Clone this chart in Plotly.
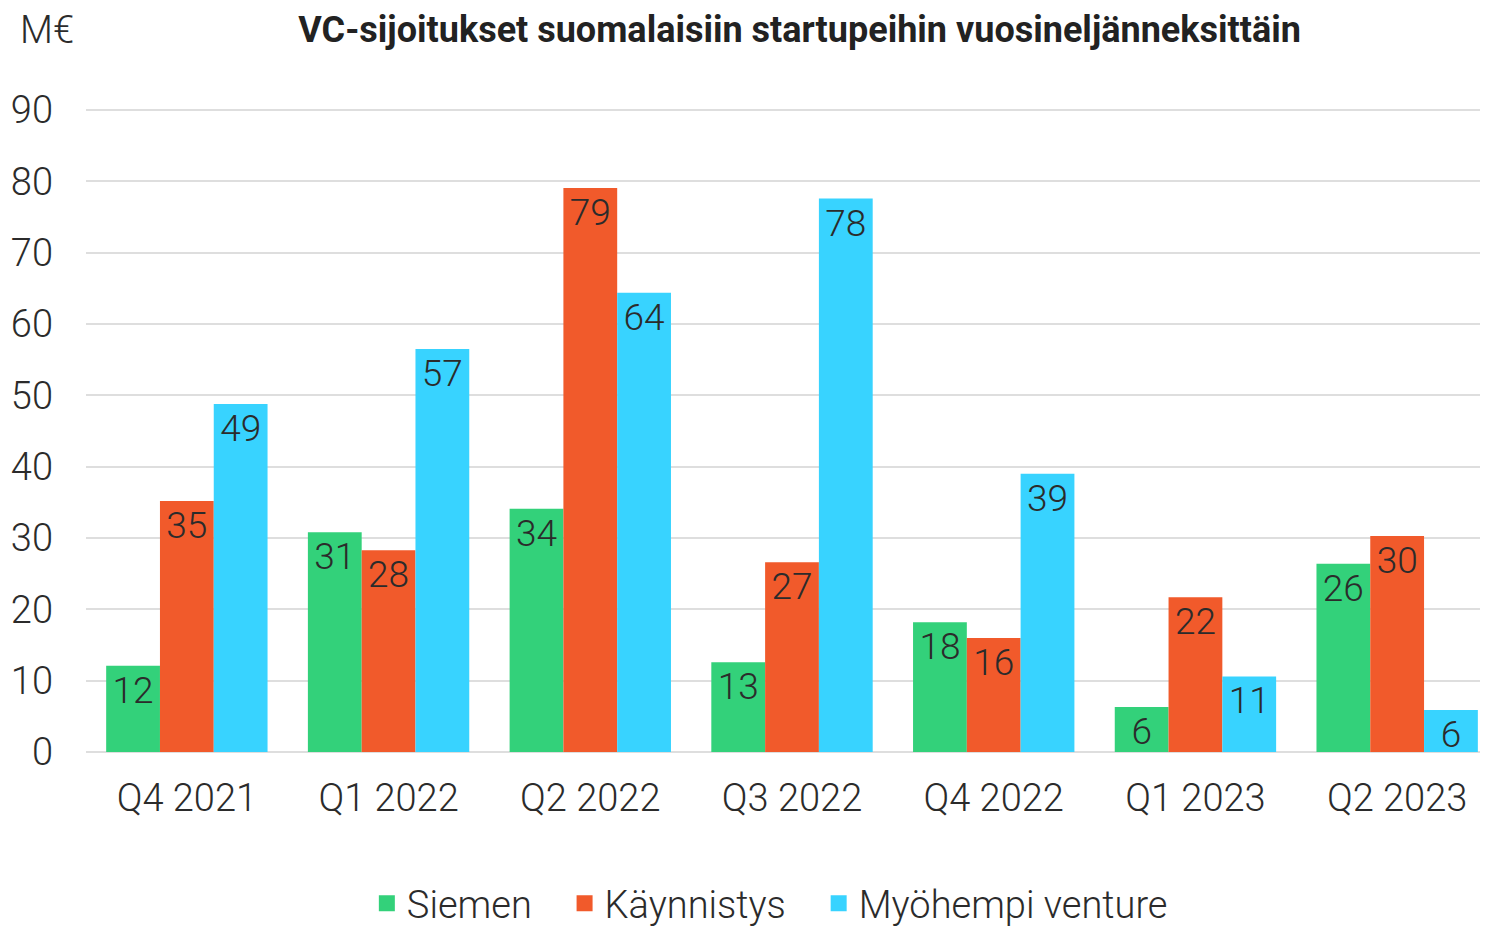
import plotly.graph_objects as go

quarters = ["Q4 2021", "Q1 2022", "Q2 2022", "Q3 2022", "Q4 2022", "Q1 2023", "Q2 2023"]
siemen = [12.1, 30.8, 34.1, 12.6, 18.2, 6.3, 26.4]
kaynnistys = [35.2, 28.3, 79.1, 26.6, 16.0, 21.7, 30.3]
myohempi = [48.8, 56.5, 64.4, 77.6, 39.0, 10.6, 5.9]
y_ticks = [0, 10, 20, 30, 40, 50, 60, 70, 80, 90]

FONT = "Roboto"
TEXT = "#2b2b2b"
GAP = "\u00a0" * 3  # extra room between legend items

series = [
    ("Siemen", siemen, "#33d17a"),
    ("Käynnistys", kaynnistys, "#f15a2b"),
    ("Myöhempi venture", myohempi, "#38d3ff"),
]

fig = go.Figure()
for name, values, color in series:
    fig.add_trace(go.Bar(
        x=quarters, y=values, name=name, showlegend=False,
        marker=dict(color=color, line=dict(width=0)),
        texttemplate="%{y:.0f}", textangle=0,
        textposition="inside", insidetextanchor="end",
        constraintext="none",
        textfont=dict(family=FONT, size=37, color=TEXT, weight=300),
    ))
# legend entries with larger square swatches
for i, (name, values, color) in enumerate(series):
    fig.add_trace(go.Scatter(
        x=[None], y=[None], mode="markers",
        name=name + (GAP if i < len(series) - 1 else ""),
        marker=dict(symbol="square", size=18, color=color),
    ))

fig.update_layout(
    width=1488, height=927,
    paper_bgcolor="white", plot_bgcolor="white",
    margin=dict(l=78, r=0, t=100, b=183, autoexpand=False),
    barmode="group", bargap=0.2, bargroupgap=0,
    font=dict(family=FONT, size=38, color=TEXT, weight=300),
    title=dict(text="<b>VC-sijoitukset suomalaisiin startupeihin vuosineljänneksittäin</b>",
               x=0.532, xanchor="center", yref="container", y=0.99, yanchor="top",
               font=dict(size=36, weight=700, color="#222222")),
    xaxis=dict(range=[-0.5, 6.49], showgrid=False, ticks="", showline=False,
               automargin=False, ticklabelstandoff=20,
               tickfont=dict(size=38, weight=300)),
    yaxis=dict(range=[0, 90.3], tickvals=y_ticks, showgrid=True, gridcolor="#dedede",
               gridwidth=2, zeroline=True, zerolinecolor="#dedede", zerolinewidth=2,
               ticks="", ticklabelstandoff=32, automargin=False,
               tickfont=dict(size=38, weight=300)),
    legend=dict(orientation="h", x=0.485, xanchor="center",
                yref="container", y=0.0, yanchor="bottom",
                font=dict(size=38, weight=300), itemwidth=30, traceorder="normal",
                tracegroupgap=0),
    showlegend=True,
)

fig.add_annotation(text="M€", xref="paper", yref="paper", x=-0.048, xanchor="left",
                   y=1.121, yanchor="middle", showarrow=False,
                   font=dict(size=38, weight=300))

fig.write_html("out.html")
